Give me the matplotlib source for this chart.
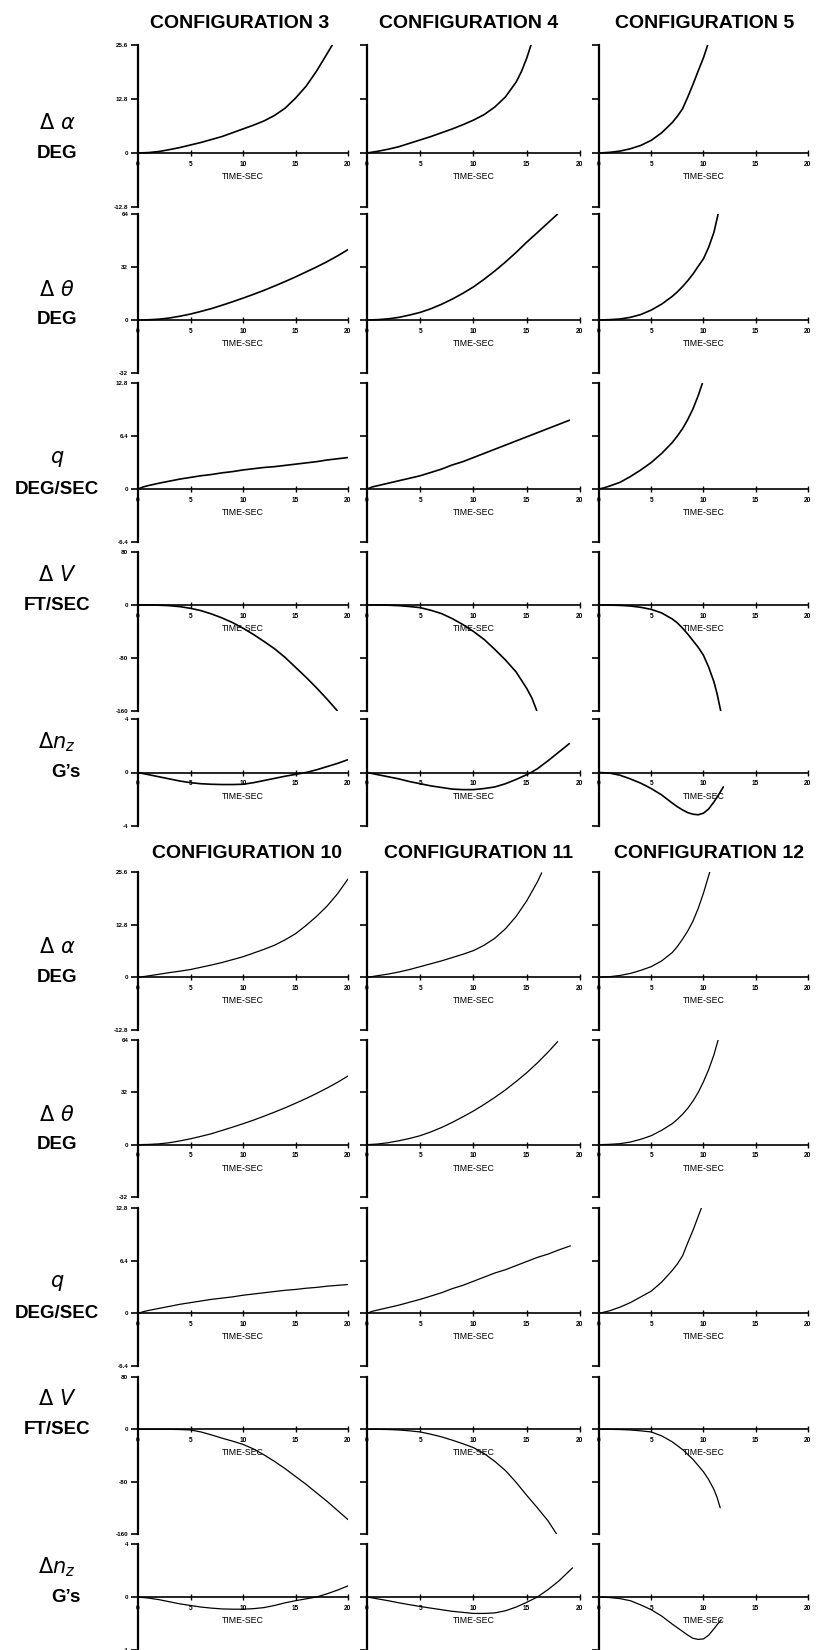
import matplotlib.pyplot as plt

plt.rcParams['mathtext.fontset'] = 'dejavusans'
plt.rcParams['font.family'] = ['Liberation Sans', 'DejaVu Sans']

upper_titles = ['CONFIGURATION 3', 'CONFIGURATION 4', 'CONFIGURATION 5']
lower_titles = ['CONFIGURATION 10', 'CONFIGURATION 11', 'CONFIGURATION 12']
upper_configs = [3, 4, 5]
lower_configs = [10, 11, 12]

row_symbols = [r'$\Delta\ \alpha$', r'$\Delta\ \theta$', r'$q$', r'$\Delta\ V$', r'$\Delta n_z$']
row_units = ['DEG', 'DEG', 'DEG/SEC', 'FT/SEC', 'G’s']
y_limits = [(-12.8, 25.6), (-32, 64), (-6.4, 12.8), (-160, 80), (-4, 4)]
y_ticks = [[-12.8, 0, 12.8, 25.6], [-32, 0, 32, 64], [-6.4, 0, 6.4, 12.8],
           [-160, -80, 0, 80], [-4, 0, 4]]
y_ticklabels = [['-12.8', '0', '12.8', '25.6'], ['-32', '0', '32', '64'],
                ['-6.4', '0', '6.4', '12.8'], ['-160', '-80', '0', '80'], ['-4', '0', '4']]
time_ticks = [0, 5, 10, 15, 20]

# angle of attack change, deg
alpha_t = {
    3: [0, 1, 2, 3, 4, 5, 6, 7, 8, 9, 10, 11, 12, 13, 14, 15, 16, 17, 18, 18.5],
    4: [0, 1, 2, 3, 4, 5, 6, 7, 8, 9, 10, 11, 12, 13, 14, 14.5, 15, 15.4],
    5: [0, 1, 2, 3, 4, 5, 6, 7, 7.5, 8, 8.5, 9, 9.5, 10, 10.4],
    10: [0, 1, 2, 3, 4, 5, 6, 7, 8, 9, 10, 11, 12, 13, 14, 15, 16, 17, 18, 19, 20],
    11: [0, 1, 2, 3, 4, 5, 6, 7, 8, 9, 10, 11, 12, 13, 14, 15, 16, 16.4],
    12: [0, 1, 2, 3, 4, 5, 6, 7, 7.5, 8, 8.5, 9, 9.5, 10, 10.6],
}
alpha_v = {
    3: [0, 0.1, 0.35, 0.8, 1.3, 1.9, 2.5, 3.2, 3.9, 4.8, 5.7, 6.6, 7.6, 8.9, 10.6,
        13.0, 15.8, 19.4, 23.5, 25.6],
    4: [0, 0.4, 0.9, 1.5, 2.3, 3.1, 3.9, 4.8, 5.7, 6.7, 7.8, 9.1, 10.9, 13.3, 16.8,
        19.3, 22.5, 25.6],
    5: [0, 0.15, 0.45, 1.0, 1.8, 3.0, 4.8, 7.2, 8.7, 10.5, 13.3, 16.3, 19.5, 22.6, 25.6],
    10: [0, 0.35, 0.75, 1.15, 1.5, 1.9, 2.45, 3.0, 3.6, 4.3, 5.0, 5.9, 6.8, 7.8, 9.1,
         10.6, 12.6, 14.8, 17.3, 20.3, 23.9],
    11: [0, 0.4, 0.8, 1.3, 1.9, 2.6, 3.3, 4.0, 4.8, 5.6, 6.5, 7.8, 9.5, 11.8, 14.8,
         18.6, 23.2, 25.4],
    12: [0, 0.15, 0.45, 0.95, 1.7, 2.6, 4.0, 6.0, 7.5, 9.3, 11.3, 13.7, 16.8, 20.5, 25.6],
}

# pitch attitude change, deg
theta_t = {
    3: [0, 1, 2, 3, 4, 5, 6, 7, 8, 9, 10, 11, 12, 13, 14, 15, 16, 17, 18, 19, 20],
    4: [0, 1, 2, 3, 4, 5, 6, 7, 8, 9, 10, 11, 12, 13, 14, 15, 16, 17, 17.9],
    5: [0, 1, 2, 3, 4, 5, 6, 7, 7.5, 8, 8.5, 9, 9.5, 10, 10.5, 11, 11.4],
    10: [0, 1, 2, 3, 4, 5, 6, 7, 8, 9, 10, 11, 12, 13, 14, 15, 16, 17, 18, 19, 20],
    11: [0, 1, 2, 3, 4, 5, 6, 7, 8, 9, 10, 11, 12, 13, 14, 15, 16, 17, 17.9],
    12: [0, 1, 2, 3, 4, 5, 6, 7, 7.5, 8, 8.5, 9, 9.5, 10, 10.5, 11, 11.4],
}
theta_v = {
    3: [0, 0.15, 0.5, 1.2, 2.3, 3.6, 5.2, 6.9, 8.9, 11, 13.2, 15.5, 17.9, 20.5, 23.2,
        26, 29, 32, 35.2, 38.7, 42.5],
    4: [0, 0.2, 0.7, 1.6, 3, 4.6, 6.8, 9.5, 12.6, 16.1, 20, 24.6, 29.6, 35, 40.8, 47,
        52.8, 58.7, 64],
    5: [0, 0.2, 0.6, 1.6, 3.3, 6, 9.6, 14.2, 17, 20.2, 23.8, 27.8, 32.5, 37, 44, 53, 64],
    10: [0, 0.15, 0.5, 1.2, 2.3, 3.6, 5.1, 6.7, 8.7, 10.7, 12.8, 15, 17.4, 19.9, 22.5,
         25.3, 28.2, 31.3, 34.6, 38.1, 42],
    11: [0, 0.4, 1.2, 2.4, 3.8, 5.5, 7.8, 10.5, 13.6, 17, 20.6, 24.6, 28.9, 33.5, 38.6,
         44, 50, 56.6, 63],
    12: [0, 0.2, 0.6, 1.6, 3.3, 5.5, 8.8, 12.8, 15.5, 18.6, 22.3, 26.7, 32, 38.5, 46, 55, 64],
}

# pitch rate, deg/sec
q_t = {
    3: [0, 0.5, 1, 2, 3, 4, 5, 6, 7, 8, 9, 10, 11, 12, 13, 14, 15, 16, 17, 18, 19, 20],
    4: [0, 0.5, 1, 2, 3, 4, 5, 6, 7, 8, 9, 10, 11, 12, 13, 14, 15, 16, 17, 18, 19],
    5: [0, 0.5, 1, 2, 3, 4, 5, 6, 7, 7.5, 8, 8.5, 9, 9.5, 9.9],
    10: [0, 0.5, 1, 2, 3, 4, 5, 6, 7, 8, 9, 10, 11, 12, 13, 14, 15, 16, 17, 18, 19, 20],
    11: [0, 0.5, 1, 2, 3, 4, 5, 6, 7, 8, 9, 10, 11, 12, 13, 14, 15, 16, 17, 18, 19.1],
    12: [0, 0.5, 1, 2, 3, 4, 5, 6, 7, 7.5, 8, 8.5, 9, 9.5, 9.8],
}
q_v = {
    3: [0, 0.25, 0.42, 0.7, 0.95, 1.2, 1.4, 1.6, 1.75, 1.95, 2.1, 2.3, 2.45, 2.6, 2.7,
        2.85, 3.0, 3.15, 3.3, 3.5, 3.65, 3.8],
    4: [0, 0.25, 0.4, 0.7, 1.0, 1.3, 1.6, 2.0, 2.4, 2.9, 3.3, 3.8, 4.3, 4.8, 5.3, 5.8,
        6.3, 6.8, 7.3, 7.8, 8.3],
    5: [0, 0.15, 0.35, 0.8, 1.5, 2.3, 3.2, 4.3, 5.6, 6.4, 7.3, 8.4, 9.7, 11.3, 12.8],
    10: [0, 0.2, 0.35, 0.6, 0.85, 1.1, 1.3, 1.5, 1.7, 1.85, 2.0, 2.2, 2.35, 2.5, 2.65,
         2.8, 2.9, 3.05, 3.15, 3.3, 3.4, 3.5],
    11: [0, 0.25, 0.4, 0.7, 1.0, 1.35, 1.7, 2.1, 2.5, 3.0, 3.4, 3.9, 4.4, 4.9, 5.3, 5.8,
         6.3, 6.8, 7.2, 7.7, 8.2],
    12: [0, 0.15, 0.3, 0.75, 1.3, 2.0, 2.7, 3.8, 5.2, 6.0, 7.0, 8.6, 10.1, 11.8, 12.8],
}

# airspeed change, ft/sec
dv_t = {
    3: [0, 1, 2, 3, 4, 5, 6, 7, 8, 9, 10, 11, 12, 13, 14, 15, 16, 17, 18, 19],
    4: [0, 1, 2, 3, 4, 5, 6, 7, 8, 9, 10, 11, 12, 13, 14, 15, 15.5, 15.95],
    5: [0, 1, 2, 3, 4, 5, 6, 7, 7.5, 8, 8.5, 9, 9.5, 10, 10.5, 11, 11.3, 11.65],
    10: [0, 1, 2, 3, 4, 5, 6, 7, 8, 9, 10, 11, 12, 13, 14, 15, 16, 17, 18, 19, 20],
    11: [0, 1, 2, 3, 4, 5, 6, 7, 8, 9, 10, 11, 12, 13, 14, 15, 16, 17, 17.8],
    12: [0, 1, 2, 3, 4, 5, 6, 7, 7.5, 8, 9, 10, 10.5, 11, 11.3, 11.6],
}
dv_v = {
    3: [0, 0, -0.3, -1, -2.5, -5, -8.5, -13.5, -19.5, -26.5, -35, -44.5, -55, -66, -79,
        -94, -109, -125, -142, -160],
    4: [0, 0, -0.3, -1, -2.3, -4, -8, -13, -20.5, -29.5, -40, -52, -67, -83, -101, -126,
        -141, -160],
    5: [0, -0.1, -0.6, -1.5, -3.5, -6.6, -12, -21, -27, -35, -44, -54, -64, -76, -94,
        -116, -134, -160],
    10: [0, 0, 0, 0, -0.3, -1, -4, -8.5, -13.5, -18, -23, -30, -39, -49, -60, -72, -84,
         -97, -110, -124, -138],
    11: [0, 0, -0.3, -1, -2.3, -4, -7.5, -11.5, -16.5, -22, -28, -37, -49, -63, -81,
         -101, -120, -140, -160],
    12: [0, 0, -0.3, -1, -2.3, -4, -10, -19, -25, -31, -46, -65, -77, -92, -104, -120],
}

# normal load factor change, g
nz_t = {
    3: [0, 1, 2, 3, 4, 5, 6, 7, 8, 9, 10, 11, 12, 13, 14, 15, 16, 17, 18, 19, 20],
    4: [0, 1, 2, 3, 4, 5, 6, 7, 8, 9, 10, 11, 12, 13, 14, 15, 15.4, 16, 17, 18, 19],
    5: [0, 1, 2, 3, 4, 5, 6, 7, 7.5, 8, 8.5, 9, 9.5, 10, 10.5, 11, 11.5, 11.9],
    10: [0, 1, 2, 3, 4, 5, 6, 7, 8, 9, 10, 11, 12, 13, 14, 15, 16, 17, 18, 19, 20],
    11: [0, 1, 2, 3, 4, 5, 6, 7, 8, 9, 10, 11, 12, 13, 14, 15, 16, 17, 18, 19.3],
    12: [0, 1, 2, 3, 4, 5, 6, 7, 7.5, 8, 8.5, 9, 9.5, 10, 10.5, 11, 11.4, 11.7],
}
nz_v = {
    3: [0, -0.16, -0.32, -0.48, -0.64, -0.76, -0.84, -0.88, -0.9, -0.9, -0.88, -0.76,
        -0.6, -0.44, -0.28, -0.14, 0, 0.2, 0.44, 0.68, 0.96],
    4: [0, -0.16, -0.32, -0.48, -0.68, -0.84, -1.0, -1.12, -1.24, -1.28, -1.28, -1.2,
        -1.08, -0.84, -0.52, -0.16, 0, 0.28, 0.88, 1.52, 2.16],
    5: [0, -0.04, -0.2, -0.48, -0.8, -1.2, -1.68, -2.28, -2.56, -2.8, -3.0, -3.12,
        -3.16, -3.04, -2.72, -2.2, -1.6, -1.08],
    10: [0, -0.08, -0.2, -0.36, -0.52, -0.64, -0.76, -0.84, -0.9, -0.92, -0.92, -0.88,
         -0.8, -0.64, -0.44, -0.28, -0.14, 0, 0.24, 0.52, 0.84],
    11: [0, -0.14, -0.28, -0.44, -0.58, -0.72, -0.84, -0.96, -1.08, -1.16, -1.24, -1.24,
         -1.2, -1.04, -0.76, -0.4, 0, 0.56, 1.2, 2.2],
    12: [0, -0.04, -0.12, -0.28, -0.6, -0.96, -1.44, -2.04, -2.32, -2.6, -2.88, -3.12,
         -3.2, -3.16, -2.88, -2.4, -2.0, -1.72],
}

series = [(alpha_t, alpha_v), (theta_t, theta_v), (q_t, q_v), (dv_t, dv_v), (nz_t, nz_v)]

W, H = 820, 1650
fig = plt.figure(figsize=(W / 100, H / 100), dpi=100)

col_left = [138, 367, 599]
col_right = [348, 580, 808]
upper_rows = [(45, 207), (214, 373), (383, 542), (552, 711), (719, 826)]
lower_rows = [(872, 1030), (1040, 1197), (1208, 1366), (1377, 1534), (1544, 1650)]
upper_title_x = [240, 469, 705]
lower_title_x = [247, 479, 709]


def px_text(x, y, s, **kw):
    fig.text(x / W, 1 - y / H, s, ha='center', va='center', **kw)


def draw_panel(x0, x1, y0, y1, r, t, v, with_labels, lw):
    ax = fig.add_axes([x0 / W, 1 - y1 / H, (x1 - x0) / W, (y1 - y0) / H])
    ax.patch.set_visible(False)
    ax.set_xlim(0, 20)
    ax.set_ylim(*y_limits[r])
    for side in ['top', 'right', 'bottom']:
        ax.spines[side].set_visible(False)
    ax.spines['left'].set_linewidth(1.6)
    ax.set_xticks([])
    ax.set_yticks(y_ticks[r])
    ax.tick_params(axis='y', direction='out', length=5, width=1.2, pad=2)
    if with_labels:
        ax.set_yticklabels(y_ticklabels[r], fontsize=4.5, fontweight='bold')
    else:
        ax.set_yticklabels([])

    # time axis drawn along the zero line
    ax.axhline(0, color='black', lw=1.2)
    ax.plot(time_ticks[1:], [0] * 4, '|', color='black', ms=4, mew=1.0, clip_on=False)
    for tt in time_ticks:
        ax.annotate(str(tt), (tt, 0), xytext=(0, -8), textcoords='offset points',
                    ha='center', va='center', fontsize=4.8, fontweight='bold',
                    annotation_clip=False)
    ax.annotate('TIME-SEC', (10, 0), xytext=(0, -17), textcoords='offset points',
                ha='center', va='center', fontsize=6.3, annotation_clip=False)

    ax.plot(t, v, color='black', lw=lw, solid_capstyle='round', solid_joinstyle='round')
    return ax


blocks = [
    (upper_titles, upper_configs, upper_rows, upper_title_x, 23, 1.2),
    (lower_titles, lower_configs, lower_rows, lower_title_x, 854, 0.9),
]

for titles, configs, rows, title_x, title_y, lw in blocks:
    for c in range(3):
        px_text(title_x[c], title_y, titles[c], fontsize=14, fontweight='bold')
    for r, (y0, y1) in enumerate(rows):
        lo, hi = y_limits[r]
        zero_y = y0 + hi / (hi - lo) * (y1 - y0)
        px_text(57, zero_y - 30, row_symbols[r], fontsize=15)
        px_text(57 if r < 4 else 66, zero_y, row_units[r], fontsize=13.5, fontweight='bold')
        times, values = series[r]
        for c, cfg in enumerate(configs):
            draw_panel(col_left[c], col_right[c], y0, y1, r,
                       times[cfg], values[cfg], c == 0, lw)

fig.savefig('out.png', dpi=100)
